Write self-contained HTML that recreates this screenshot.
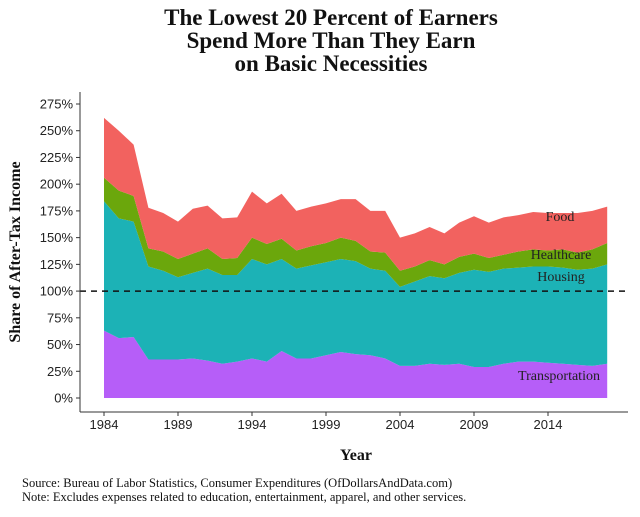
<!DOCTYPE html>
<html><head><meta charset="utf-8"><style>
body{margin:0;background:#fff;width:640px;height:512px;overflow:hidden;font-family:"Liberation Serif",serif}
</style></head><body>
<svg id="c" width="640" height="512" xmlns="http://www.w3.org/2000/svg">
<g font-family="Liberation Serif, serif" font-weight="bold" font-size="23" text-anchor="middle" fill="#111">
<text x="331" y="25">The Lowest 20 Percent of Earners</text>
<text x="331" y="48">Spend More Than They Earn</text>
<text x="331" y="71">on Basic Necessities</text>
</g>
<g id="areas"></g>
<g id="axes"></g>
<text transform="translate(20,252) rotate(-90)" text-anchor="middle" font-size="16" font-weight="bold" fill="#111">Share of After-Tax Income</text>
<text x="356" y="460" text-anchor="middle" font-size="16" font-weight="bold" fill="#111">Year</text>
<text x="22" y="487" font-size="12.5" fill="#111">Source:  Bureau of Labor Statistics, Consumer Expenditures (OfDollarsAndData.com)</text>
<text x="22" y="501" font-size="12.5" fill="#111">Note:  Excludes expenses related to education, entertainment, apparel, and other services.</text>
</svg>
<script>
const years=[1984,1985,1986,1987,1988,1989,1990,1991,1992,1993,1994,1995,1996,1997,1998,1999,2000,2001,2002,2003,2004,2005,2006,2007,2008,2009,2010,2011,2012,2013,2014,2015,2016,2017,2018];
const transportation=[63,56,57,36,36,36,37,35,32,34,37,34,44,37,37,40,43,41,40,37,30,30,32,31,32,29,29,32,34,34,33,32,31,30,32];
const housing=[121,112,108,87,83,77,80,86,83,81,93,91,86,84,87,87,87,87,81,82,74,79,82,81,85,91,89,89,88,89,90,90,89,91,93];
const healthcare=[22,26,24,17,18,17,18,19,15,16,20,19,19,17,18,18,20,19,16,17,15,14,15,13,15,15,13,13,15,16,15,17,16,18,20];
const food=[56,56,48,38,36,35,42,40,38,38,43,38,42,37,37,37,36,39,38,39,31,31,31,29,32,35,33,35,34,35,35,34,37,36,34];
const yTicks=[0,25,50,75,100,125,150,175,200,225,250,275];
const xTicks=[1984,1989,1994,1999,2004,2009,2014];
const NS="http://www.w3.org/2000/svg";
const X=v=>104+(v-1984)*14.8;
const Y=v=>398-v*294/275;
function el(t,a,p){const e=document.createElementNS(NS,t);for(const k in a)e.setAttribute(k,a[k]);p.appendChild(e);return e;}
const areas=document.getElementById('areas'),axes=document.getElementById('axes');
const series=[["transportation",transportation,"#b65ef8"],["housing",housing,"#1cb2b6"],["healthcare",healthcare,"#6ba70c"],["food",food,"#f2625f"]];
let base=years.map(()=>0);
series.forEach(([n,vals,col])=>{
  const top=base.map((b,i)=>b+vals[i]);
  let d="M"+years.map((y,i)=>X(y)+","+Y(top[i])).join("L");
  for(let i=years.length-1;i>=0;i--)d+="L"+X(years[i])+","+Y(base[i]);
  const p=el('path',{d:d+"Z",fill:col},areas);
  
  
  base=top;
});
const ref=el('line',{x1:80,x2:628,y1:Y(100),y2:Y(100),stroke:"#111","stroke-width":1.5,"stroke-dasharray":"6,5"},areas);


el('line',{x1:80,x2:80,y1:92,y2:412,stroke:"#333","stroke-width":1},axes);
el('line',{x1:80,x2:628,y1:412,y2:412,stroke:"#333","stroke-width":1},axes);
yTicks.forEach(v=>{
  el('line',{x1:76,x2:80,y1:Y(v),y2:Y(v),stroke:"#333"},axes);
  const t=el('text',{x:73,y:Y(v)+4.5,"text-anchor":"end","font-size":13,fill:"#222","font-family":"Liberation Sans, sans-serif"},axes);
  t.textContent=v+"%";
  
  
});
xTicks.forEach(v=>{
  el('line',{x1:X(v),x2:X(v),y1:412,y2:416,stroke:"#333"},axes);
  const t=el('text',{x:X(v),y:429,"text-anchor":"middle","font-size":13,fill:"#222","font-family":"Liberation Sans, sans-serif"},axes);
  t.textContent=v;
  
  
});
[["Food",560,221],["Healthcare",561,259],["Housing",561,281],["Transportation",559,380]].forEach(([s,x,y])=>{
  const t=el('text',{x:x,y:y,"text-anchor":"middle","font-size":14,fill:"#222"},areas);
  t.textContent=s;
  
  
});
</script>
</body></html>
